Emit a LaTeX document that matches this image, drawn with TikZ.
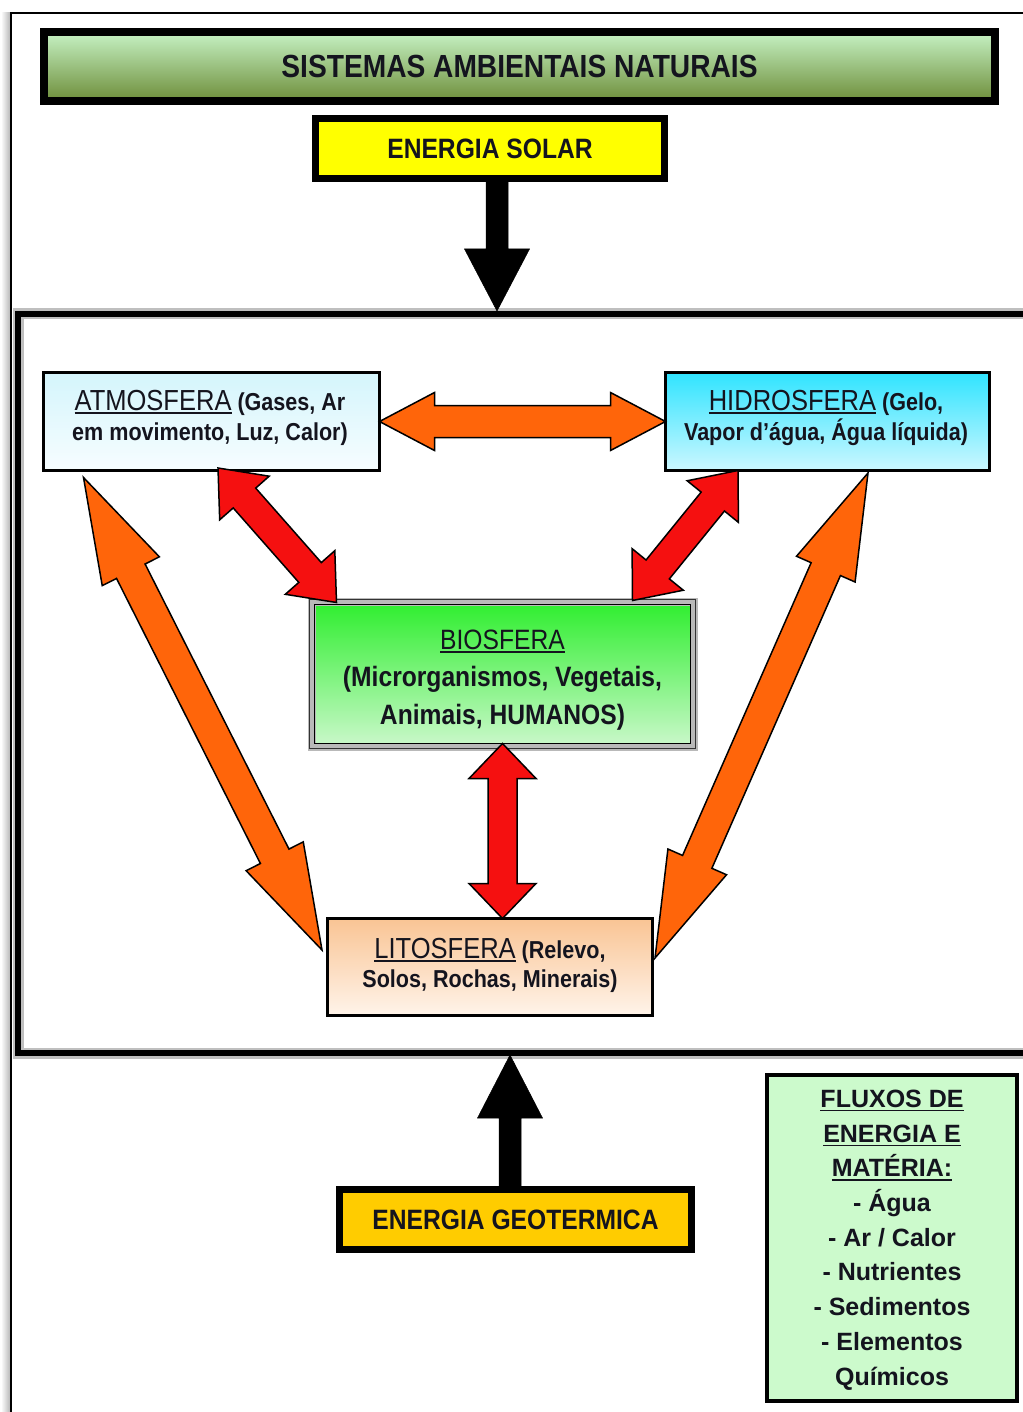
\documentclass[tikz,border=0pt]{standalone}
\usepackage{fontspec}
\setmainfont{Liberation Sans}
\newfontfamily\narrowfont{Liberation Sans}[FakeStretch=0.88]
\usetikzlibrary{calc}

\definecolor{arrOrange}{HTML}{FF650A}
\definecolor{arrRed}{HTML}{F51010}
\definecolor{titleTop}{HTML}{C6F2C4}
\definecolor{titleBot}{HTML}{6E8E3A}
\definecolor{solarYellow}{HTML}{FFFF00}
\definecolor{geoGold}{HTML}{FFCC00}
\definecolor{atmTop}{HTML}{D4F5FC}
\definecolor{atmBot}{HTML}{F7FDFF}
\definecolor{hidTop}{HTML}{30E4FF}
\definecolor{hidBot}{HTML}{CCF7FF}
\definecolor{bioTop}{HTML}{2EEE2E}
\definecolor{bioBot}{HTML}{CBF8CB}
\definecolor{litTop}{HTML}{F9C494}
\definecolor{litBot}{HTML}{FFF4EA}
\definecolor{fluxGreen}{HTML}{CCFACC}
\definecolor{inkText}{HTML}{14141E}

\newcommand\fs[2]{\fontsize{#1}{#2}\selectfont}
% underlined word with a rule of fixed thickness
\newcommand\ul[1]{\leavevmode\vtop{\hbox{#1}\kern2.2pt\hrule height 1.6pt}}

% double-headed block arrow: style, start, end, shaft half width, head half width, head length
\newcommand\twoway[6]{%
  \path (#2) coordinate (twS) (#3) coordinate (twE);
  \coordinate (twA) at ($(twS)!#6!(twE)$);
  \coordinate (twB) at ($(twE)!#6!(twS)$);
  \filldraw[#1] (twS)
    -- ($(twA)!#5!90:(twE)$) -- ($(twA)!#4!90:(twE)$)
    -- ($(twB)!#4!-90:(twS)$) -- ($(twB)!#5!-90:(twS)$)
    -- (twE)
    -- ($(twB)!#5!90:(twS)$) -- ($(twB)!#4!90:(twS)$)
    -- ($(twA)!#4!-90:(twE)$) -- ($(twA)!#5!-90:(twE)$)
    -- cycle;
}
% single-headed block arrow: same arguments
\newcommand\oneway[6]{%
  \path (#2) coordinate (owS) (#3) coordinate (owE);
  \coordinate (owB) at ($(owE)!#6!(owS)$);
  \filldraw[#1] ($(owS)!#4!90:(owE)$)
    -- ($(owB)!#4!-90:(owS)$) -- ($(owB)!#5!-90:(owS)$)
    -- (owE)
    -- ($(owB)!#5!90:(owS)$) -- ($(owB)!#4!90:(owS)$)
    -- ($(owS)!#4!-90:(owE)$) -- cycle;
}

\tikzset{
  boxbase/.style={draw=black, inner sep=0pt, outer sep=0pt, text=inkText},
  energybox/.style={boxbase, line width=7pt, minimum height=60pt,
    font=\narrowfont\bfseries\fs{28}{28}},
  spherebox/.style={boxbase, line width=3pt},
  spheretext/.style={anchor=base, align=center, inner sep=0pt, text=inkText,
    font=\narrowfont\bfseries\fs{24.5}{30}},
  orangearrow/.style={fill=arrOrange, draw=black, line width=1.5pt, line join=miter},
  redarrow/.style={fill=arrRed, draw=black, line width=1.5pt, line join=miter},
  blackarrow/.style={fill=black, draw=black, line width=0.5pt, line join=miter},
}

\begin{document}
\begin{tikzpicture}[x=1pt, y=-1pt]
\useasboundingbox (0,0) rectangle (1022,1412);
\fill[white] (0,0) rectangle (1022,1412);

% outer page frame with a soft left shadow
\shade[left color=white, right color=gray!55] (1,13) rectangle (10,1412);
\draw[line width=2.5pt] (1030,13) -- (11,13) -- (11,1420);

% inner frame of the system
\draw[gray!50, line width=11pt, line join=miter] (1040,313.5) -- (18,313.5) -- (18,1053) -- (1040,1053);
\draw[black, line width=6pt, line join=miter] (1040,313.5) -- (18,313.5) -- (18,1053) -- (1040,1053);
\coordinate (frametop) at (497,311);
\coordinate (framebot) at (510,1055);

% title and energy sources
\node[boxbase, line width=8pt, top color=titleTop, bottom color=titleBot,
      minimum width=951pt, minimum height=69pt,
      font=\narrowfont\bfseries\fs{32}{32}] (title) at (519.5,66.5) {SISTEMAS AMBIENTAIS NATURAIS};
\node[energybox, fill=solarYellow, minimum width=349pt] (sol) at (490,148.5) {ENERGIA SOLAR};
\node[energybox, fill=geoGold, minimum width=352pt] (geo) at (515.5,1219.5) {ENERGIA GEOTERMICA};

% spheres
\node[spherebox, top color=atmTop, bottom color=atmBot, minimum width=336pt, minimum height=98pt] (atm) at (211.5,421.5) {};
\node[spherebox, top color=hidTop, bottom color=hidBot, minimum width=324pt, minimum height=98pt] (hid) at (827.5,421.5) {};
\node[boxbase, draw=gray!55, line width=8pt, top color=bioTop, bottom color=bioBot,
      minimum width=382pt, minimum height=145pt] (bio) at (502.5,674) {};
\draw[black!80, line width=1.6pt] ($(bio.south west)+(-2,2)$) rectangle ($(bio.north east)+(2,-2)$);
\draw[black, line width=1.6pt] ($(bio.south west)+(3,-3)$) rectangle ($(bio.north east)+(-3,3)$);
\node[spherebox, top color=litTop, bottom color=litBot, minimum width=325pt, minimum height=97pt] (lit) at (490,967) {};

% texts are anchored at the baseline of their last line
\node[spheretext] (atmtext) at (210,440)
  {{\mdseries\fs{29}{30}\ul{ATMOSFERA}} (Gases, Ar\\em movimento, Luz, Calor)};
\node[spheretext] (hidtext) at (826,440)
  {{\mdseries\fs{29}{30}\ul{HIDROSFERA}} (Gelo,\\Vapor d’água, Água líquida)};
\node[spheretext, font=\narrowfont\bfseries\fs{28}{37.5}] (biotext) at (502.5,724)
  {{\mdseries\ul{BIOSFERA}}\\(Microrganismos, Vegetais,\\Animais, HUMANOS)};
\node[spheretext, font=\narrowfont\bfseries\fs{24.5}{29}] (littext) at (490,987)
  {{\mdseries\fs{29}{29}\ul{LITOSFERA}} (Relevo,\\Solos, Rochas, Minerais)};

% legend of flows
\node[boxbase, line width=3.5pt, fill=fluxGreen, minimum width=250pt, minimum height=326pt] (flux) at (892,1238) {};
\node[anchor=base, align=center, inner sep=0pt, text=inkText, font=\bfseries\fs{25}{34.7}] (fluxtext) at (892,1385)
  {\ul{FLUXOS DE}\\\ul{ENERGIA E}\\\ul{MATÉRIA:}\\- Água\\- Ar / Calor\\- Nutrientes\\- Sedimentos\\- Elementos\\Químicos};

% energy inputs
\coordinate (solfoot) at ($(sol.south)+(7,0)$);
\coordinate (geohead) at ($(geo.north)+(-5.5,0)$);
\oneway{blackarrow}{solfoot}{frametop}{11pt}{32.5pt}{62pt}
\oneway{blackarrow}{geohead}{framebot}{11pt}{32.5pt}{63pt}

% exchanges between the spheres
\coordinate (o1a) at ($(atm.south west)+(40,7)$);
\coordinate (o1b) at ($(lit.west)+(-5.5,-17)$);
\coordinate (o2a) at ($(hid.south east)+(-121.5,2.5)$);
\coordinate (o2b) at ($(lit.east)+(2.5,-9)$);
\coordinate (r1a) at ($(atm.south)+(6.5,-2.5)$);
\coordinate (r1b) at ($(bio.north west)+(25,1)$);
\coordinate (r2a) at ($(hid.south west)+(72.5,0)$);
\coordinate (r2b) at ($(bio.north east)+(-61,-1)$);
\coordinate (r3a) at ($(bio.south)+(0,-3)$);
\coordinate (r3b) at ($(lit.north)+(12.5,0)$);

\twoway{orangearrow}{atm.east}{hid.west}{16pt}{29pt}{55pt}
\twoway{orangearrow}{o1a}{o1b}{16pt}{32pt}{105pt}
\twoway{orangearrow}{o2a}{o2b}{16pt}{32pt}{105pt}
\twoway{redarrow}{r1a}{r1b}{15pt}{33pt}{40pt}
\twoway{redarrow}{r2a}{r2b}{15pt}{33pt}{40pt}
\twoway{redarrow}{r3a}{r3b}{14.5pt}{33.5pt}{35pt}
\end{tikzpicture}
\end{document}
